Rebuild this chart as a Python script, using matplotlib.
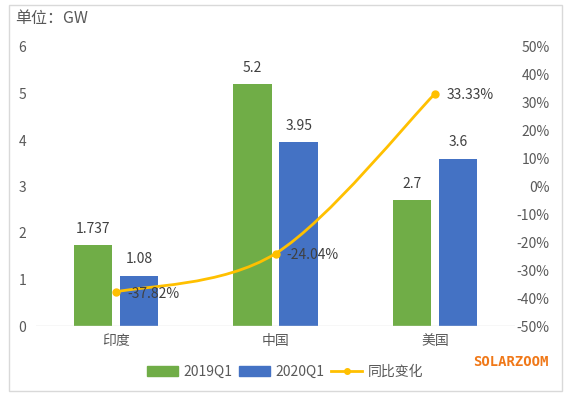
import matplotlib.pyplot as plt
from matplotlib.path import Path
from matplotlib.patches import PathPatch, Rectangle
from matplotlib.lines import Line2D

plt.rcParams['font.family'] = ['Noto Sans CJK SC', 'DejaVu Sans']

regions = ["印度", "中国", "美国"]
q1_2019 = [1.737, 5.2, 2.7]
q1_2020 = [1.08, 3.95, 3.6]
yoy = [-0.3782, -0.2404, 0.3333]
labels_2019 = ["1.737", "5.2", "2.7"]
labels_2020 = ["1.08", "3.95", "3.6"]
yoy_labels = ["-37.82%", "-24.04%", "33.33%"]

green = "#70AD47"
blue = "#4472C4"
gold = "#FFC000"
txt = "#595959"

fig = plt.figure(figsize=(5.69, 3.97), dpi=100)
ax = fig.add_axes([36 / 569, 1 - 326 / 397, 479 / 569, 279 / 397])
ax2 = ax.twinx()

x = list(range(len(regions)))
w = 0.24
off = 0.145
ax.bar([i - off for i in x], q1_2019, width=w, color=green, zorder=2)
ax.bar([i + off for i in x], q1_2020, width=w, color=blue, zorder=2)
for i in x:
    ax.text(i - off, q1_2019[i] + 0.2, labels_2019[i], ha="center", va="bottom",
            fontsize=10, color="#404040")
    ax.text(i + off, q1_2020[i] + 0.2, labels_2020[i], ha="center", va="bottom",
            fontsize=10, color="#404040")

ax.set_xlim(-0.5, 2.5)
ax.set_ylim(0, 6)
ax.set_xticks(x)
ax.set_xticklabels(regions, fontsize=10, color=txt)
ax.set_yticks(range(7))
ax.tick_params(length=0, labelsize=10, labelcolor=txt)
ax.tick_params(axis="x", pad=6)
ax.tick_params(axis="y", pad=7)
for s in ax.spines.values():
    s.set_visible(False)
ax.axhline(0, color="#D9D9D9", lw=1, zorder=3)

# smoothed line (Bezier segments through the points)
pts = list(zip(x, yoy))
verts = [pts[0]]
codes = [Path.MOVETO]
for i in range(len(pts) - 1):
    p0 = pts[i - 1] if i > 0 else pts[i]
    p1 = pts[i]
    p2 = pts[i + 1]
    p3 = pts[i + 2] if i + 2 < len(pts) else pts[i + 1]
    c1 = (p1[0] + (p2[0] - p0[0]) / 6, p1[1] + (p2[1] - p0[1]) / 6)
    c2 = (p2[0] - (p3[0] - p1[0]) / 6, p2[1] - (p3[1] - p1[1]) / 6)
    verts += [c1, c2, p2]
    codes += [Path.CURVE4] * 3
ax2.add_patch(PathPatch(Path(verts, codes), fill=False, edgecolor=gold, lw=2, zorder=4))
ax2.plot(x, yoy, "o", color=gold, ms=5, zorder=5)
for i in x:
    ax2.text(i + 0.07, yoy[i] - 0.006, yoy_labels[i], ha="left", va="center",
             fontsize=10, color="#404040", zorder=6)

ax2.set_ylim(-0.5, 0.5)
ax2.set_yticks([v / 10 for v in range(-5, 6)])
ax2.set_yticklabels([f"{v * 10}%" for v in range(-5, 6)])
for t in ax2.get_yticklabels():
    t.set_horizontalalignment("right")
ax2.tick_params(length=0, labelsize=10, labelcolor=txt, pad=25)
for s in ax2.spines.values():
    s.set_visible(False)

fig.text(15 / 569, 1 - 18 / 397, "单位：GW", fontsize=11.5, color=txt, va="center")
fig.text(548 / 569, 1 - 362 / 397, "SOLARZOOM", fontsize=10, color="#F07818",
         family="DejaVu Sans Mono", weight="bold", ha="right", va="center")

handles = [Rectangle((0, 0), 1, 1, color=green), Rectangle((0, 0), 1, 1, color=blue),
           Line2D([], [], color=gold, lw=2, marker="o", ms=4)]
fig.legend(handles, ["2019Q1", "2020Q1", "同比变化"], loc="center",
           bbox_to_anchor=(285 / 569, 1 - 372 / 397), ncol=3, frameon=False,
           fontsize=10, labelcolor=txt, handlelength=2.2, handleheight=0.7,
           columnspacing=0.5, handletextpad=0.4)

fig.add_artist(Rectangle((9 / 569, 1 - 391 / 397), 553 / 569, 386 / 397,
                         transform=fig.transFigure, fill=False, edgecolor="#D9D9D9", lw=1))

fig.savefig("out.png", dpi=100)
